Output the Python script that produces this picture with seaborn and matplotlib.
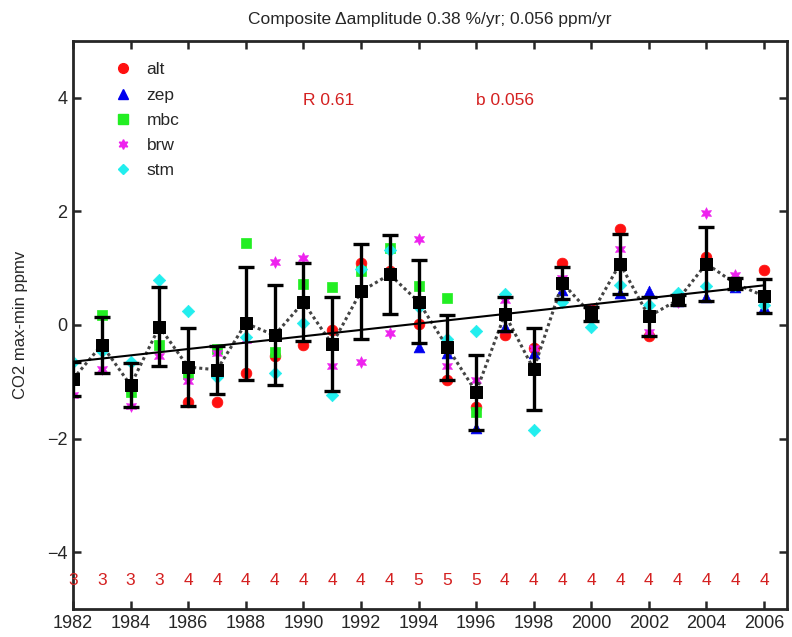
import numpy as np
import pandas as pd
import seaborn as sns
import matplotlib.pyplot as plt
from matplotlib.lines import Line2D

sns.set_style("ticks")
plt.rcParams['font.family'] = ['Liberation Sans Narrow', 'Liberation Sans', 'DejaVu Sans']

# years and per-year station counts
years = list(range(1982, 2007))
counts = [3, 3, 3, 3, 4, 4, 4, 4, 4, 4, 4, 4, 5, 5, 5, 4, 4, 4, 4, 4, 4, 4, 4, 4, 4]

# station anomalies (NaN = no data that year)
nan = np.nan
alt = [nan, nan, nan, nan, -1.35, -1.35, -0.85, -0.55, -0.35, -0.09, 1.09, 0.95, 0.02,
       -0.97, -1.45, -0.18, -0.40, 1.10, 0.28, 1.69, -0.20, 0.42, 1.20, 0.72, 0.96]
zep = [nan, nan, nan, nan, nan, nan, nan, nan, nan, nan, nan, nan, -0.39,
       -0.50, -1.82, -0.03, -0.50, 0.62, 0.25, 0.56, 0.60, 0.42, 0.50, 0.67, 0.32]
mbc = [-0.97, 0.18, -1.18, -0.35, -0.86, -0.42, 1.44, -0.47, 0.73, 0.67, 0.95, 1.35, 0.69,
       0.48, -1.53, nan, nan, nan, nan, nan, nan, nan, nan, nan, nan]
brw = [-1.23, -0.78, -1.42, -0.55, -0.98, -0.49, -0.26, 1.11, 1.18, -0.72, -0.66, -0.14, 1.51,
       -0.72, -0.97, 0.44, -0.41, 0.82, 0.26, 1.34, -0.12, 0.40, 1.98, 0.88, 0.41]
stm = [-0.65, -0.45, -0.65, 0.79, 0.25, -0.91, -0.21, -0.85, 0.04, -1.24, 0.98, 1.32, 0.32,
       -0.24, -0.11, 0.55, -1.85, 0.41, -0.03, 0.70, 0.35, 0.56, 0.69, 0.70, 0.35]

# composite mean and its error
composite = [-0.95, -0.35, -1.06, -0.03, -0.74, -0.79, 0.03, -0.18, 0.40, -0.34, 0.59, 0.89, 0.41,
             -0.39, -1.18, 0.19, -0.78, 0.74, 0.19, 1.08, 0.15, 0.44, 1.08, 0.73, 0.51]
comp_err = [0.30, 0.49, 0.39, 0.70, 0.69, 0.42, 0.99, 0.88, 0.69, 0.83, 0.84, 0.69, 0.73,
            0.57, 0.66, 0.30, 0.72, 0.28, 0.12, 0.53, 0.35, 0.08, 0.65, 0.10, 0.30]

stations = ['alt', 'zep', 'mbc', 'brw', 'stm']
colors = ['#ff1010', '#0000ee', '#22ee22', '#ee22ee', '#22eeee']
markers = ['o', '^', 's', (6, 1, 0), 'D']
sizes = [60, 60, 48, 70, 40]

df = pd.DataFrame({'year': years, 'alt': alt, 'zep': zep, 'mbc': mbc, 'brw': brw, 'stm': stm})

fig = plt.figure(figsize=(7.92, 6.37), dpi=100)
ax = fig.add_axes([0.0922, 0.044, 0.9015, 0.8916])

for st, c, m, s in zip(stations, colors, markers, sizes):
    sns.scatterplot(data=df, x='year', y=st, color=c, marker=m, s=s, edgecolor=c,
                    linewidth=0.5, ax=ax, zorder=2)

# composite: dotted connecting line, error bars, squares
sns.lineplot(x=years, y=composite, color='#444444', linestyle=(0, (1, 1)), linewidth=2.2,
             ax=ax, zorder=3)
ax.errorbar(years, composite, yerr=comp_err, fmt='none', ecolor='black', elinewidth=2.4,
            capsize=6, capthick=2.4, zorder=4)
sns.scatterplot(x=years, y=composite, color='black', marker='s', s=80, edgecolor='black',
                ax=ax, zorder=5)

# linear trend
sns.regplot(x=np.array(years), y=np.array(composite), scatter=False, ci=None, color='black',
            line_kws={'linewidth': 1.5, 'zorder': 6}, ax=ax)

for yr, n in zip(years, counts):
    ax.text(yr, -4.5, str(n), color='#d42020', fontsize=12.5, ha='center', va='center')

ax.text(1990.0, 3.96, 'R 0.61', color='#d42020', fontsize=12.5, ha='left', va='center')
ax.text(1996.0, 3.96, 'b 0.056', color='#d42020', fontsize=12.5, ha='left', va='center')

handles = [Line2D([], [], linestyle='none', marker=m, color=c, markeredgecolor=c,
                  markersize=7 if m != 'D' else 5.5) for c, m in zip(colors, markers)]
ax.legend(handles, stations, loc='upper left', bbox_to_anchor=(0.03, 0.99), frameon=False,
          fontsize=12.5, handletextpad=0.6, labelspacing=0.58, handlelength=1.5)

ax.set_xlim(1982, 2006.8)
ax.set_ylim(-5, 5)
ax.set_xticks(range(1982, 2007, 2))
ax.set_yticks([-4, -2, 0, 2, 4])
ax.tick_params(direction='in', length=6, width=1.8, labelsize=13, top=True, right=True, pad=4)
for sp in ax.spines.values():
    sp.set_visible(True)
    sp.set_linewidth(2)
ax.set_xlabel('')
ax.set_ylabel('CO2 max-min ppmv', fontsize=12, labelpad=14)
ax.set_title('Composite \u0394amplitude 0.38 %/yr; 0.056 ppm/yr', fontsize=12.5, pad=12)

fig.savefig('out.png', dpi=100)
